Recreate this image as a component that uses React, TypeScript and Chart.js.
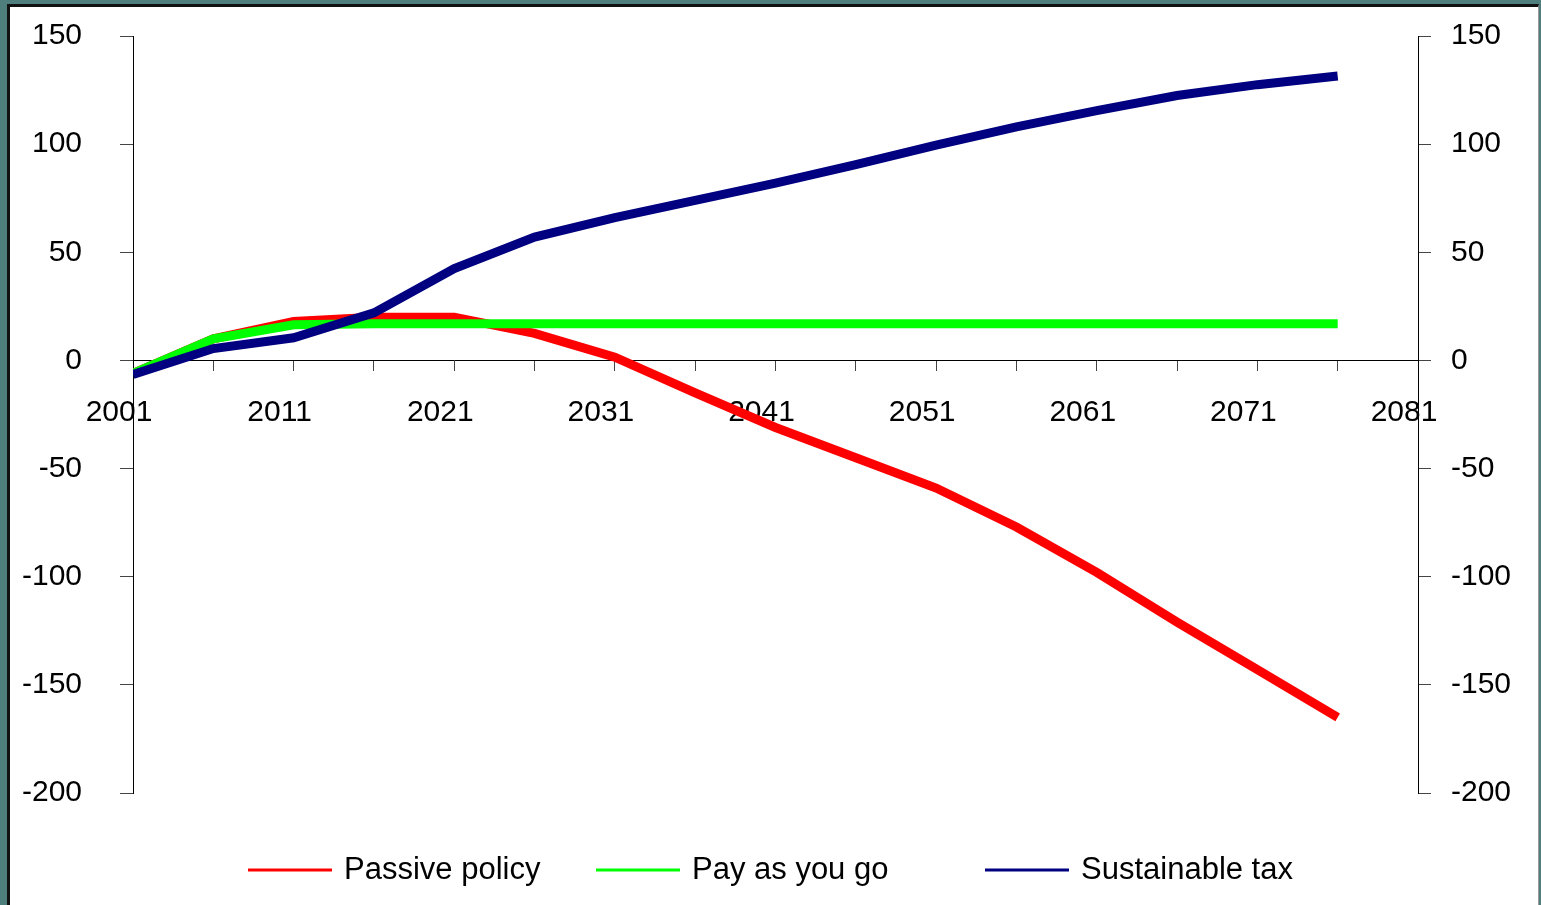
import React, { useEffect, useRef } from "react";
import { Chart, registerables } from "chart.js";

Chart.register(...registerables);

// ---- data ----
const years = [2001, 2006, 2011, 2016, 2021, 2026, 2031, 2036, 2041, 2046, 2051, 2056, 2061, 2066, 2071, 2076];
const passivePolicy = [-6, 10, 18, 20, 20, 12.5, 1.5, -15, -31, -45, -59, -77, -98, -121, -143, -165];
const payAsYouGo = [-6, 10, 16.5, 17, 17, 17, 17, 17, 17, 17, 17, 17, 17, 17, 17, 17];
const sustainableTax = [-6.5, 5.5, 10.5, 22, 42.5, 57, 66, 74, 82, 90.5, 99.5, 108, 115.5, 122.5, 127.5, 131.5];
const seriesNames = ["Passive policy", "Pay as you go", "Sustainable tax"];
const seriesColors = ["#ff0000", "#00ff00", "#000080"];
const xAxisMin = 2001;
const xAxisMax = 2081;
const xStep = 5;
const xLabelEvery = 10;
const yAxisMin = -200;
const yAxisMax = 150;
const yStep = 50;

const FONT = "'Liberation Sans', Arial, Helvetica, sans-serif";

const legendStarts = [238, 586, 975];

const fixedLegend = {
  id: "fixedLegend",
  afterDraw(chart: any) {
    const ctx = chart.ctx;
    ctx.save();
    chart.data.datasets.forEach((ds: any, i: number) => {
      const x = legendStarts[i];
      const y = 863;
      ctx.strokeStyle = ds.borderColor;
      ctx.lineWidth = 3;
      ctx.beginPath();
      ctx.moveTo(x, y);
      ctx.lineTo(x + 84, y);
      ctx.stroke();
      ctx.fillStyle = "#000";
      ctx.font = `31px ${FONT}`;
      ctx.textBaseline = "middle";
      ctx.textAlign = "left";
      ctx.fillText(ds.label, x + 96, y);
    });
    ctx.restore();
  },
};

const zeroPad = (s: any) => {
  s.paddingTop = 0;
  s.paddingBottom = 0;
  s.paddingLeft = 0;
  s.paddingRight = 0;
};

export default function App() {
  const ref = useRef<HTMLCanvasElement | null>(null);

  useEffect(() => {
    document.body.style.margin = "0";
    document.body.style.overflow = "hidden";
    const series = [passivePolicy, payAsYouGo, sustainableTax];
    const orders = [3, 2, 1];
    const chart = new Chart(ref.current as HTMLCanvasElement, {
      type: "line",
      data: {
        datasets: series.map((vals, i) => ({
          label: seriesNames[i],
          data: vals.map((v, j) => ({ x: years[j], y: v })),
          borderColor: seriesColors[i],
          backgroundColor: seriesColors[i],
          borderWidth: 9,
          pointRadius: 0,
          tension: 0,
          borderCapStyle: "butt",
          borderJoinStyle: "miter",
          fill: false,
          order: orders[i],
        })),
      },
      options: {
        responsive: false,
        animation: false,
        layout: { padding: { top: 29, bottom: 112, left: 0, right: 0 } },
        plugins: {
          legend: { display: false },
          tooltip: { enabled: false },
        },
        scales: {
          x: {
            type: "linear",
            position: { y: 0 },
            min: xAxisMin,
            max: xAxisMax,
            afterFit: zeroPad,
            grid: { drawOnChartArea: false, drawTicks: true, tickLength: 10, color: "#444" },
            border: { display: true, color: "#000", width: 1 },
            ticks: {
              stepSize: xStep,
              autoSkip: false,
              maxRotation: 0,
              padding: 24,
              labelOffset: -14,
              color: "#000",
              font: { family: FONT, size: 30 },
              callback: (v: any) => ((Number(v) - xAxisMin) % xLabelEvery === 0 ? String(v) : ""),
            },
          },
          y: {
            type: "linear",
            position: "left",
            min: yAxisMin,
            max: yAxisMax,
            afterFit: (s: any) => {
              s.width = 123;
              zeroPad(s);
            },
            grid: { drawOnChartArea: false, drawTicks: true, tickLength: 13, color: "#444" },
            border: { display: true, color: "#000", width: 1 },
            ticks: {
              stepSize: yStep,
              padding: 38,
              color: "#000",
              font: { family: FONT, size: 30 },
              callback: (v: any) => String(v),
            },
          },
          y2: {
            type: "linear",
            position: "right",
            min: yAxisMin,
            max: yAxisMax,
            afterFit: (s: any) => {
              s.width = 120;
              zeroPad(s);
            },
            grid: { drawOnChartArea: false, drawTicks: true, tickLength: 13, color: "#444" },
            border: { display: true, color: "#000", width: 1 },
            ticks: {
              stepSize: yStep,
              padding: 20,
              color: "#000",
              font: { family: FONT, size: 30 },
              callback: (v: any) => String(v),
            },
          },
        },
      },
      plugins: [fixedLegend],
    } as any);
    return () => chart.destroy();
  }, []);

  return (
    <div
      style={{
        position: "absolute",
        left: 0,
        top: 0,
        width: 1541,
        height: 905,
        background: "#4f7f7d",
        overflow: "hidden",
      }}
    >
      <div
        style={{
          position: "absolute",
          left: 7,
          top: 4,
          width: 1532,
          height: 901,
          boxSizing: "border-box",
          borderLeft: "3px solid #111",
          borderTop: "3px solid #111",
          borderRight: "1px solid #999",
          background: "#fff",
        }}
      >
        <canvas
          ref={ref}
          width={1528}
          height={898}
          style={{ display: "block", width: 1528, height: 898 }}
        />
      </div>
    </div>
  );
}
